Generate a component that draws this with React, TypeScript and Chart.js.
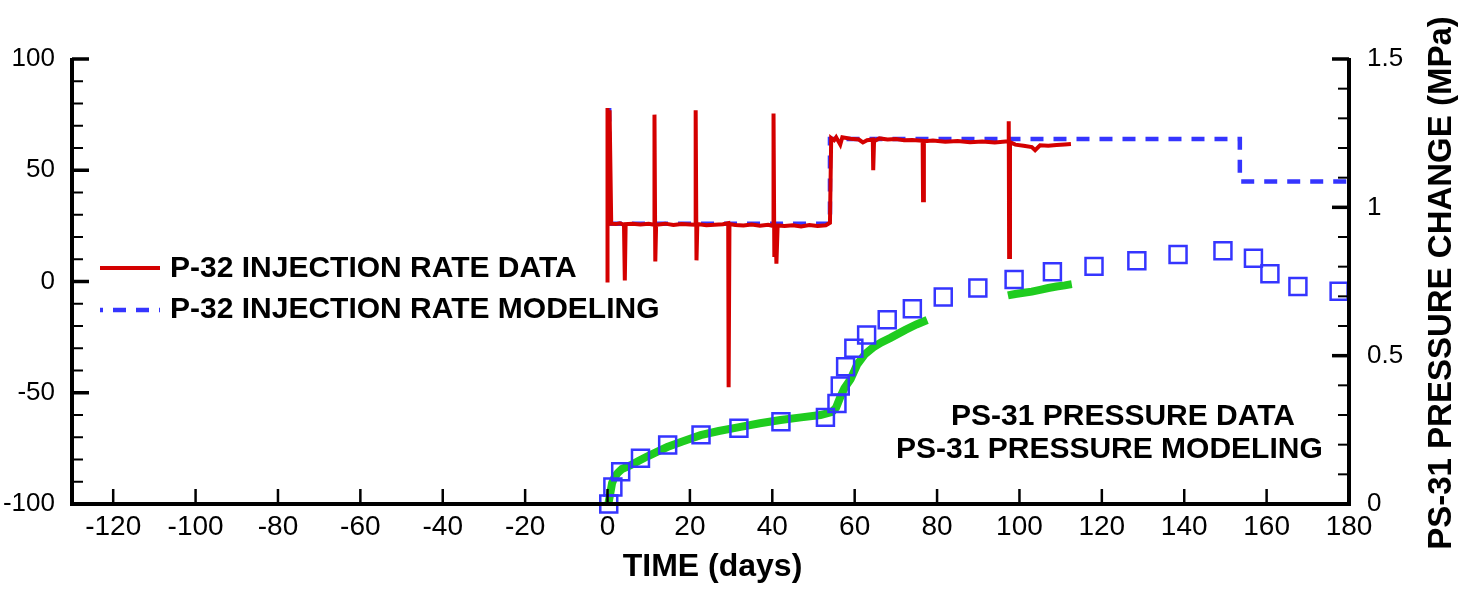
import React, { useEffect, useRef } from 'react';
import { Chart, registerables } from 'chart.js';

Chart.register(...registerables);

// ---------- data ----------
const xTickValues = [-120, -100, -80, -60, -40, -20, 0, 20, 40, 60, 80, 100, 120, 140, 160, 180];
const leftTickValues = [-100, -50, 0, 50, 100];
const rightTickValues = [0, 0.5, 1, 1.5];

// P-32 injection rate data (left axis)
const rateDataDays = [
  0, 0, 0.2, 0.5, 0.9, 2.0, 3.0, 4.0, 4.2, 4.4, 6, 8, 10, 11.3, 11.4, 11.6, 11.8, 14, 16, 18, 20,
  21.3, 21.4, 21.6, 21.8, 24, 26, 28, 29.3, 29.4, 29.6, 31, 33, 35, 37, 39, 40.2, 40.3, 40.5, 40.8,
  41.0, 41.3, 43, 45, 47, 49, 51, 53, 54.0, 54.3, 55, 55.5, 56.5, 57, 59, 61, 62, 63, 64.4, 64.5,
  64.7, 66, 68, 70, 72, 74, 76.5, 76.6, 76.8, 79, 82, 85, 88, 91, 94, 97.3, 97.4, 97.5, 97.7, 99,
  101, 103, 103.8, 105, 107, 109, 111, 112.5,
];
const rateDataValues = [
  -0.5, 78, 30, 77, 26, 25.8, 26.2, 25.5, 0.5, 25.8, 26, 25.6, 25.9, 25.5, 75, 9, 25.5, 26, 25.4, 25.8, 25.6,
  25.5, 77, 9.5, 25.8, 25.3, 25.5, 25.7, 26.2, -47.5, 25.8, 25.4, 25.2, 25.6, 25.1, 25.5, 25, 75.5, 11, 25,
  8, 25.2, 24.9, 25.3, 24.7, 25.4, 25.0, 25.3, 26.4, 64.5, 63.5, 64.8, 61.5, 64.8, 64.2, 63.8, 62.5, 63.5, 63.8, 50,
  63, 64.3, 63.8, 64.0, 63.5, 63.6, 63.2, 36.5, 63.0, 63.4, 62.8, 63.1, 62.6, 62.9, 62.5, 63, 72, 11, 62.6, 61.5,
  61.0, 60.4, 59.0, 61.2, 61.0, 61.3, 61.6, 61.8,
];

// P-32 injection rate modeling (left axis)
const rateModelDays = [0, 0.4, 0.4, 54, 54, 153.5, 153.5, 180];
const rateModelValues = [77, 77, 26, 26, 64, 64, 45, 45];

// PS-31 pressure data (right axis), null = gap in record
const pressureDataDays = [
  0.2, 0.6, 1.1, 1.7, 2.5, 3.5, 5.5, 7.5, 9.6, 12, 14.5, 18, 22.6, 27, 32.3, 37, 42, 47, 51.7, 54.5,
  55.5, 56.5, 57.5, 59, 60.6, 62.5, 64.5, 66.5, 68.7, 72.3, 75, 77.6,
  87,
  97.2, 99, 101, 103, 105, 107, 109, 111, 112.7,
];
const pressureDataValues = [
  0.0, 0.03, 0.07, 0.09, 0.105, 0.118, 0.13, 0.145, 0.16, 0.176, 0.192, 0.21, 0.232, 0.246, 0.26, 0.272, 0.283, 0.292, 0.30, 0.31,
  0.325, 0.36, 0.39, 0.42, 0.47, 0.505, 0.528, 0.545, 0.56, 0.587, 0.605, 0.62,
  null,
  0.703, 0.708, 0.712, 0.716, 0.722, 0.728, 0.733, 0.737, 0.741,
];

// PS-31 pressure modeling (right axis)
const pressureModelDays = [
  0.3, 1.3, 3.2, 8.0, 14.6, 22.7, 31.9, 42.1, 52.9, 55.7, 56.5, 57.8, 59.8, 62.9, 67.9, 74.0, 81.5,
  89.9, 98.7, 108.0, 118.1, 128.5, 138.5, 149.4, 156.8, 160.8, 167.6, 177.6,
];
const pressureModelValues = [
  0.0, 0.057, 0.109, 0.154, 0.199, 0.233, 0.255, 0.277, 0.292, 0.339, 0.398, 0.463, 0.525, 0.57, 0.621, 0.658, 0.698,
  0.728, 0.757, 0.783, 0.801, 0.820, 0.841, 0.854, 0.828, 0.776, 0.733, 0.717,
];

const legendLabels = ['P-32 INJECTION RATE DATA', 'P-32 INJECTION RATE MODELING'];
const pressureLabels = ['PS-31 PRESSURE DATA', 'PS-31 PRESSURE MODELING'];
const xTitle = 'TIME (days)';
const rightTitle = 'PS-31 PRESSURE CHANGE (MPa)';

// ---------- styles ----------
const RED = '#d40000';
const BLUE = '#3535ff';
const GREEN = '#1fcc1f';
const FONT = '"Liberation Sans", Arial, Helvetica, sans-serif';

const pts = (xs: number[], ys: (number | null)[]) => xs.map((x, i) => ({ x, y: ys[i] }));

const decorPlugin = {
  id: 'decor',
  afterDraw(chart: any) {
    const ctx: CanvasRenderingContext2D = chart.ctx;
    const { left, right, top, bottom } = chart.chartArea;
    const xs = chart.scales.x;
    const yl = chart.scales.y;
    const yr = chart.scales.y1;
    ctx.save();
    ctx.strokeStyle = '#000';
    ctx.fillStyle = '#000';
    ctx.lineCap = 'butt';

    // axis frame (left, bottom, right)
    ctx.lineWidth = 4;
    ctx.beginPath();
    ctx.moveTo(left, top - 1);
    ctx.lineTo(left, bottom);
    ctx.lineTo(right, bottom);
    ctx.lineTo(right, top - 1);
    ctx.stroke();

    // left axis ticks (inward)
    for (let v = yl.min; v <= yl.max + 1e-9; v += 10) {
      const major = Math.abs(v % 50) < 1e-9;
      const py = yl.getPixelForValue(v);
      ctx.lineWidth = major ? 3.5 : 2;
      ctx.beginPath();
      ctx.moveTo(left, py);
      ctx.lineTo(left + (major ? 17 : 11), py);
      ctx.stroke();
    }
    // right axis ticks (inward)
    for (let i = 0; i <= 15; i++) {
      const v = i / 10;
      const major = i % 5 === 0;
      const py = yr.getPixelForValue(v);
      ctx.lineWidth = major ? 3.5 : 2;
      ctx.beginPath();
      ctx.moveTo(right, py);
      ctx.lineTo(right - (major ? 17 : 11), py);
      ctx.stroke();
    }
    // bottom axis ticks (inward)
    ctx.lineWidth = 2.5;
    xs.ticks.forEach((t: any) => {
      const px = xs.getPixelForValue(t.value);
      ctx.beginPath();
      ctx.moveTo(px, bottom);
      ctx.lineTo(px, bottom - 15);
      ctx.stroke();
    });

    // legend (top-left)
    ctx.lineWidth = 4;
    ctx.strokeStyle = RED;
    ctx.beginPath();
    ctx.moveTo(100, 268);
    ctx.lineTo(160, 268);
    ctx.stroke();
    ctx.strokeStyle = BLUE;
    ctx.lineWidth = 4.5;
    ctx.setLineDash([13, 10]);
    ctx.lineDashOffset = 10;
    ctx.beginPath();
    ctx.moveTo(100, 310);
    ctx.lineTo(160, 310);
    ctx.stroke();
    ctx.setLineDash([]);

    ctx.font = `bold 30px ${FONT}`;
    ctx.textBaseline = 'middle';
    ctx.textAlign = 'left';
    ctx.fillText(legendLabels[0], 170, 269);
    ctx.fillText(legendLabels[1], 170, 310);

    // pressure labels (bottom-right)
    ctx.fillText(pressureLabels[0], 951, 417);
    ctx.fillText(pressureLabels[1], 896, 450);

    // x title
    ctx.font = `bold 32px ${FONT}`;
    ctx.textAlign = 'center';
    ctx.fillText(xTitle, (left + right) / 2 + 2, 567);

    // right title (reads bottom to top)
    ctx.save();
    ctx.translate(1442, 283);
    ctx.rotate(-Math.PI / 2);
    ctx.font = `bold 33px ${FONT}`;
    ctx.textAlign = 'center';
    ctx.fillText(rightTitle, 0, 0);
    ctx.restore();

    ctx.restore();
  },
};

export default function App() {
  const canvasRef = useRef<HTMLCanvasElement | null>(null);

  useEffect(() => {
    const canvas = canvasRef.current;
    if (!canvas) return;
    const chart = new Chart(canvas, {
      type: 'scatter',
      data: {
        datasets: [
          {
            label: legendLabels[0],
            data: pts(rateDataDays, rateDataValues),
            yAxisID: 'y',
            showLine: true,
            borderColor: RED,
            backgroundColor: RED,
            borderWidth: 4,
            pointRadius: 0,
            tension: 0,
            order: 0,
          },
          {
            label: legendLabels[1],
            data: pts(rateModelDays, rateModelValues),
            yAxisID: 'y',
            showLine: true,
            borderColor: BLUE,
            backgroundColor: BLUE,
            borderWidth: 4.5,
            borderDash: [13, 10],
            pointRadius: 0,
            tension: 0,
            order: 1,
          },
          {
            label: pressureLabels[1],
            data: pts(pressureModelDays, pressureModelValues),
            yAxisID: 'y1',
            showLine: false,
            pointStyle: 'rect',
            pointRadius: 12,
            pointHoverRadius: 12,
            borderColor: BLUE,
            backgroundColor: 'rgba(0,0,0,0)',
            pointBorderWidth: 2.5,
            borderWidth: 2.5,
            clip: false,
            order: 2,
          },
          {
            label: pressureLabels[0],
            data: pts(pressureDataDays, pressureDataValues),
            yAxisID: 'y1',
            showLine: true,
            spanGaps: false,
            borderColor: GREEN,
            backgroundColor: GREEN,
            borderWidth: 8,
            pointRadius: 0,
            tension: 0,
            order: 3,
          },
        ],
      },
      options: {
        responsive: false,
        animation: false,
        devicePixelRatio: 1,
        events: [],
        layout: { padding: { top: 59, left: 0, right: 0, bottom: 0 } },
        plugins: {
          legend: { display: false },
          tooltip: { enabled: false },
          title: { display: false },
        },
        scales: {
          x: {
            type: 'linear',
            position: 'bottom',
            min: -130,
            max: 180,
            grid: { display: false, drawTicks: false },
            border: { display: false },
            afterBuildTicks: (scale: any) => {
              scale.ticks = xTickValues.map((v) => ({ value: v }));
            },
            afterFit: (scale: any) => {
              scale.height = 88;
            },
            ticks: {
              color: '#000',
              font: { family: FONT, size: 28 },
              padding: 6,
              maxRotation: 0,
              autoSkip: false,
              callback: (v: any) => String(v),
            },
          },
          y: {
            type: 'linear',
            position: 'left',
            min: -100,
            max: 100,
            grid: { display: false, drawTicks: false },
            border: { display: false },
            afterBuildTicks: (scale: any) => {
              scale.ticks = leftTickValues.map((v) => ({ value: v }));
            },
            afterFit: (scale: any) => {
              scale.width = 72;
            },
            ticks: {
              color: '#000',
              font: { family: FONT, size: 26 },
              padding: 17,
              autoSkip: false,
              callback: (v: any) => String(v),
            },
          },
          y1: {
            type: 'linear',
            position: 'right',
            min: 0,
            max: 1.5,
            grid: { display: false, drawTicks: false },
            border: { display: false },
            afterBuildTicks: (scale: any) => {
              scale.ticks = rightTickValues.map((v) => ({ value: v }));
            },
            afterFit: (scale: any) => {
              scale.width = 125;
            },
            ticks: {
              color: '#000',
              font: { family: FONT, size: 26 },
              padding: 18,
              autoSkip: false,
              callback: (v: any) => String(v),
            },
          },
        },
      },
      plugins: [decorPlugin],
    } as any);
    return () => chart.destroy();
  }, []);

  return (
    <div style={{ position: 'absolute', left: 0, top: 0, width: 1474, height: 592, background: '#fff' }}>
      <canvas ref={canvasRef} width={1474} height={592} style={{ width: 1474, height: 592, display: 'block' }} />
    </div>
  );
}
